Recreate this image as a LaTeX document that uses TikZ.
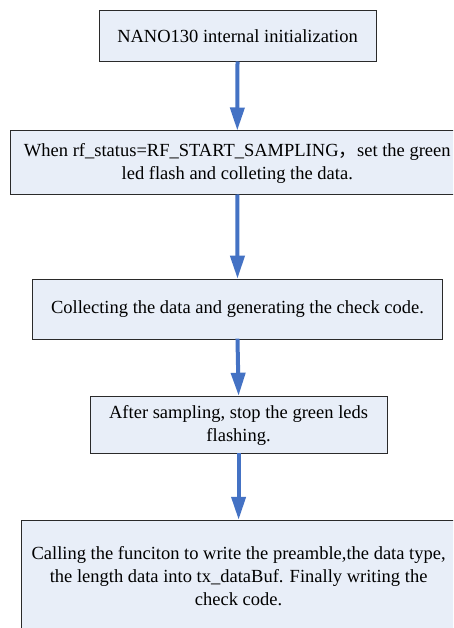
\documentclass[tikz,border=0pt]{standalone}
\usepackage{fontspec}
\setmainfont{Liberation Serif}
\newfontfamily\timesfont{Liberation Serif}
\newfontfamily\cjk{Noto Sans CJK SC}
\usetikzlibrary{arrows.meta}
\definecolor{boxfill}{HTML}{E8EEF8}
\definecolor{arrowblue}{HTML}{4472C4}
\definecolor{boxline}{HTML}{2A2A2A}
\begin{document}
\begin{tikzpicture}[x=1pt,y=-1pt,
  stepbox/.style={draw=boxline, line width=1pt, fill=boxfill, inner sep=0pt,
    align=center, font=\timesfont\fontsize{18.5}{23}\selectfont},
  flow/.style={draw=arrowblue, line width=4pt,
    -{Triangle[width=14pt,length=23pt]}, shorten <=-1pt}]
\useasboundingbox (0,0) rectangle (453,628);
\clip (0,0) rectangle (453,628);
\fill[white] (0,0) rectangle (453,628);
\node[stepbox, minimum width=277pt, minimum height=51pt] (b1) at (237.5,36.5)
  {NANO130 internal initialization};
\node[stepbox, minimum width=454pt, minimum height=64pt] (b2) at (237.3,163)
  {When rf\_status=RF\_START\_SAMPLING{\cjk ，}set the green\\led flash and colleting the data.};
\node[stepbox, minimum width=410pt, minimum height=60pt] (b3) at (237.5,309.2)
  {Collecting the data and generating the check code.};
\node[stepbox, minimum width=297pt, minimum height=57.5pt] (b4) at (238.6,425)
  {After sampling, stop the green leds\\flashing.};
\node[stepbox, minimum width=435pt, minimum height=112pt] (b5) at (238.6,576.3)
  {Calling the funciton to write the preamble,the data type,\\the length data into tx\_dataBuf. Finally writing the\\check code.};
\draw[flow] (b1.south) -- (b2.north);
\draw[flow] (b2.south) -- (b3.north);
\draw[flow] (b3.south) -- (b4.north);
\draw[flow] (b4.south) -- (b5.north);
\end{tikzpicture}
\end{document}
